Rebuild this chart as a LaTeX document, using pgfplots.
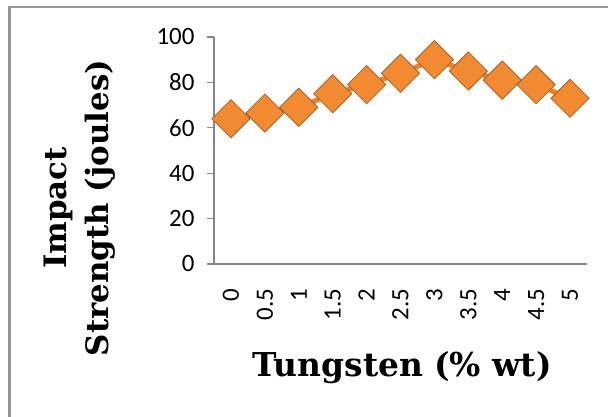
\documentclass[border=0pt]{standalone}
\usepackage{fontspec}
\setmainfont{Carlito}
\newfontfamily\labfont{DejaVu Serif}
\usepackage{pgfplots}
\pgfplotsset{compat=1.18}
\definecolor{axgray}{RGB}{134,134,134}
\definecolor{frgray}{RGB}{150,150,150}
\definecolor{linor}{RGB}{240,130,45}
\definecolor{markor}{RGB}{242,138,50}
\definecolor{markedge}{RGB}{170,95,35}
\begin{document}
\begin{tikzpicture}
\useasboundingbox (0,0) rectangle (608bp,417bp);
\draw[frgray, line width=2.5bp] (9.5bp,-20bp) -- (9.5bp,410bp) -- (640bp,410bp);
\begin{axis}[
  at={(214bp,153bp)}, anchor=south west,
  scale only axis, width=373bp, height=227bp,
  clip=false,
  xmin=-0.5, xmax=10.5, ymin=0, ymax=100,
  axis x line*=bottom, axis y line*=left,
  axis line style={axgray, line width=1.3bp, -},
  tick style={axgray, line width=1.3bp},
  tick align=outside,
  ytick={0,20,...,100},
  major tick length=7bp,
  xtick={0,...,10},
  xticklabels={0,0.5,1,1.5,2,2.5,3,3.5,4,4.5,5},
  x tick style={draw=none},
  minor xtick={-0.5,0.5,...,10.5},
  minor tick length=8bp,
  x tick label style={font=\fontsize{25}{25}\selectfont, yshift=-14bp, rotate=90, anchor=east},
  y tick label style={font=\fontsize{25}{25}\selectfont, xshift=-9bp},
  /pgf/number format/assume math mode=true,
  xlabel={Tungsten (\% wt)},
  xlabel style={at={(axis description cs:0.504,-0.455)}, anchor=center, font=\labfont\bfseries\fontsize{33}{36}\selectfont},
  ylabel={Impact\\Strength (joules)},
  ylabel style={at={(axis description cs:-0.359,0.247)}, anchor=center, align=center, font=\labfont\bfseries\fontsize{31}{42}\selectfont},
]
\addplot[linor, line width=5bp, mark=square*, mark size=13.5bp,
  mark options={rotate=45, fill=markor, draw=markedge, line width=0.8bp}]
  coordinates {(0,64) (1,66.5) (2,69) (3,75) (4,79) (5,84) (6,90) (7,85) (8,81) (9,79) (10,73)};
\end{axis}
\end{tikzpicture}
\end{document}
